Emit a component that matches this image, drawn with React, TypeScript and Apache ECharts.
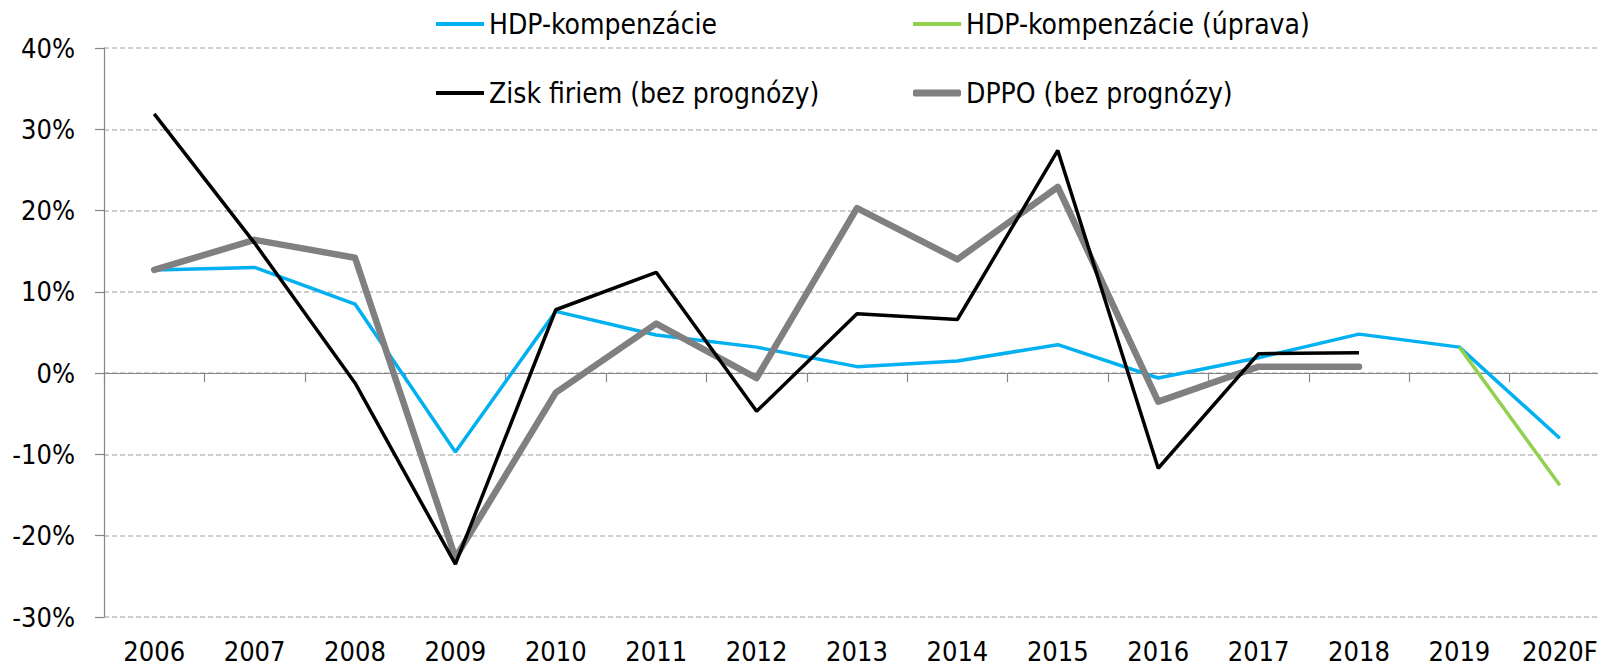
import React, { useEffect, useRef } from "react";
import * as echarts from "echarts";

const categories = ["2006", "2007", "2008", "2009", "2010", "2011", "2012", "2013", "2014", "2015", "2016", "2017", "2018", "2019", "2020F"];
const hdpKompenzacie = [12.7, 13.0, 8.5, -9.7, 7.6, 4.7, 3.2, 0.8, 1.5, 3.5, -0.6, 1.9, 4.8, 3.2, -8.0];
const hdpUprava = [null, null, null, null, null, null, null, null, null, null, null, null, null, 3.2, -13.8];
const ziskFiriem = [31.9, 16.0, -1.2, -23.5, 7.8, 12.4, -4.7, 7.3, 6.6, 27.4, -11.7, 2.4, 2.5, null, null];
const dppo = [12.7, 16.4, 14.2, -22.7, -2.4, 6.1, -0.6, 20.3, 14.0, 22.9, -3.5, 0.8, 0.8, null, null];
const seriesNames = ["HDP-kompenzácie", "HDP-kompenzácie (úprava)", "Zisk firiem (bez prognózy)", "DPPO (bez prognózy)"];
const yMin = -30;
const yMax = 40;
const yStep = 10;

const FONT = "'DejaVu Sans Condensed', 'Liberation Sans Narrow', 'Liberation Sans', sans-serif";

export default function App() {
  const ref = useRef<HTMLDivElement>(null);
  useEffect(() => {
    document.body.style.margin = "0";
    const chart = echarts.init(ref.current!, null, { renderer: "svg" });
    const legendText = { fontFamily: FONT, fontSize: 28, color: "#000", lineHeight: 34 };
    const mkLegend = (name: string, left: number, top: number, thick: boolean) => ({
      data: [{ name, icon: thick ? "roundRect" : "rect" }],
      left,
      top,
      padding: 0,
      itemWidth: 48,
      itemHeight: thick ? 7 : 4,
      textStyle: legendText,
      selectedMode: false,
    });
    chart.setOption({
      animation: false,
      backgroundColor: "#fff",
      textStyle: { fontFamily: FONT },
      legend: [
        mkLegend(seriesNames[0], 436, 7, false),
        mkLegend(seriesNames[1], 913, 7, false),
        mkLegend(seriesNames[2], 436, 76, false),
        mkLegend(seriesNames[3], 913, 76, true),
      ],
      grid: { left: 104, top: 48, width: 1506, height: 569, containLabel: false, outerBoundsMode: "none" },
      xAxis: [
        {
          type: "category",
          data: categories,
          position: "bottom",
          boundaryGap: true,
          axisLine: { onZero: true, lineStyle: { color: "#868686", width: 1.2 } },
          axisTick: { show: true, inside: false, length: 9, lineStyle: { color: "#868686", width: 1.2 } },
          axisLabel: { show: false },
          splitLine: { show: false },
        },
        {
          type: "category",
          data: categories,
          position: "bottom",
          boundaryGap: true,
          axisLine: { show: false, onZero: false },
          axisTick: { show: false },
          axisLabel: { margin: 21, fontFamily: FONT, fontSize: 27, color: "#000", interval: 0 },
          splitLine: { show: false },
        },
      ],
      yAxis: {
        type: "value",
        min: yMin,
        max: yMax,
        interval: yStep,
        axisLine: { show: true, lineStyle: { color: "#868686", width: 1.2 } },
        axisTick: { show: true, length: 9, lineStyle: { color: "#868686", width: 1.2 } },
        axisLabel: { formatter: "{value}%", margin: 29, fontFamily: FONT, fontSize: 27, color: "#000" },
        splitLine: { show: true, lineStyle: { color: "#BFBFBF", width: 1.5, type: [5, 3] } },
      },
      series: [
        {
          name: seriesNames[0], type: "line", data: hdpKompenzacie, symbol: "none", z: 2,
          lineStyle: { color: "#00B0F0", width: 3.5 }, itemStyle: { color: "#00B0F0" },
        },
        {
          name: seriesNames[1], type: "line", data: hdpUprava, symbol: "none", z: 3,
          lineStyle: { color: "#92D050", width: 3.5 }, itemStyle: { color: "#92D050" },
        },
        {
          name: seriesNames[2], type: "line", data: ziskFiriem, symbol: "none", z: 5,
          lineStyle: { color: "#000000", width: 3.5 }, itemStyle: { color: "#000000" },
        },
        {
          name: seriesNames[3], type: "line", data: dppo, symbol: "none", z: 4,
          lineStyle: { color: "#808080", width: 6.5, cap: "round", join: "round" }, itemStyle: { color: "#808080" },
        },
      ],
    });
    return () => chart.dispose();
  }, []);
  return <div ref={ref} style={{ width: 1598, height: 669 }} />;
}
